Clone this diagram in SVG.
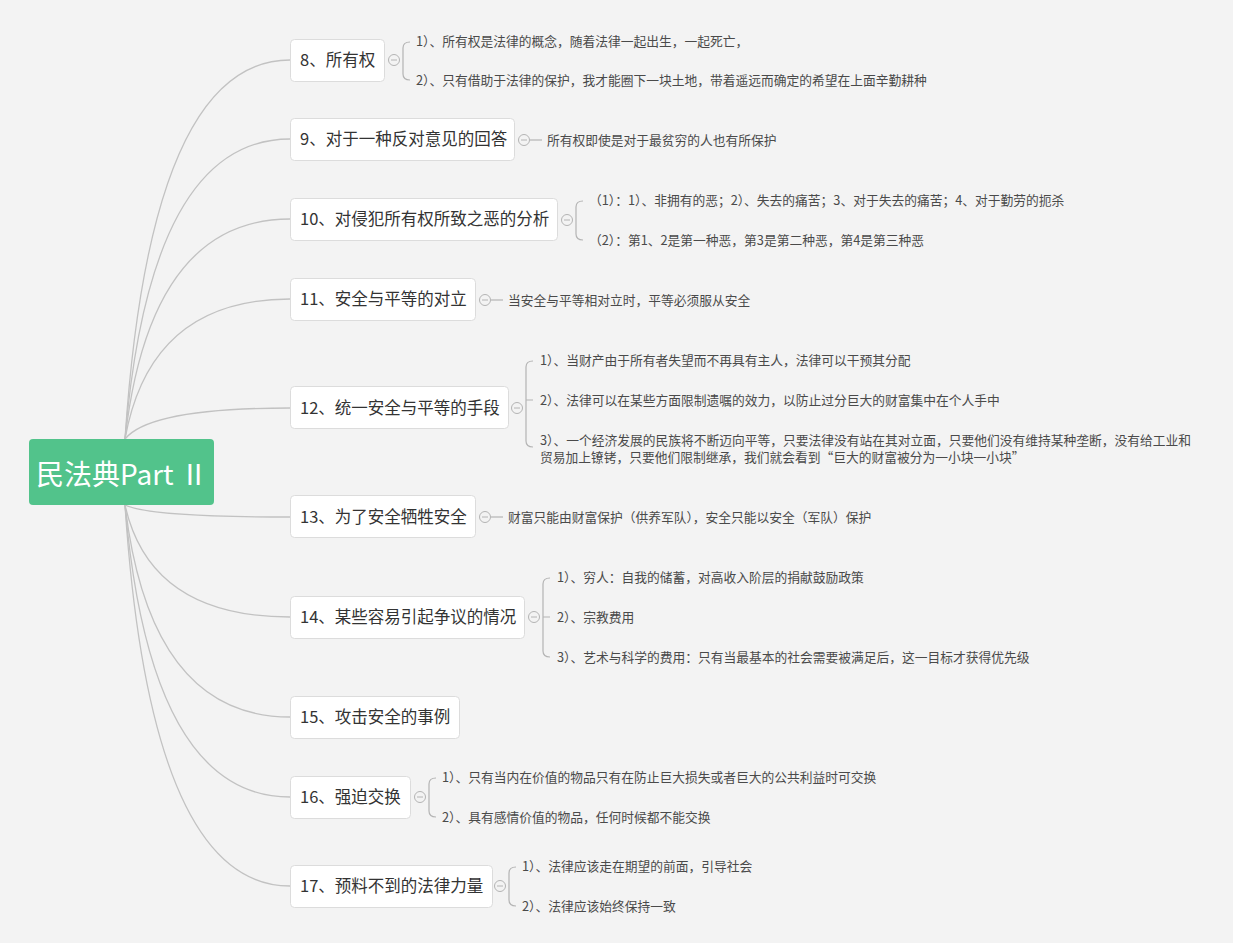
<svg xmlns="http://www.w3.org/2000/svg" width="1240" height="950" viewBox="0 0 1240 950">
  <style>
    .bg { fill: #f3f3f3; }
    .link { fill: none; stroke: #c2c2c2; stroke-width: 1.3; }
    .box { fill: #ffffff; stroke: #dcdcdc; stroke-width: 1; }
    .root { fill: #52c38b; }
    .rootText { font-family: "Noto Sans CJK SC", "Noto Sans", sans-serif; font-size: 28px; fill: #ffffff; }
    .topic { font-family: "Noto Sans CJK SC", "Noto Sans", sans-serif; font-size: 16.5px; fill: #333333; }
    .leaf { font-family: "Noto Sans CJK SC", "Noto Sans", sans-serif; font-size: 12.75px; fill: #4a4a4a; }
    .leafL { font-family: "Noto Sans CJK SC", "Noto Sans", sans-serif; font-size: 12.75px; fill: #4a4a4a; }
    .fold { fill: none; stroke: #b4b4b4; stroke-width: 1; }
    .br { fill: none; stroke: #b4b4b4; stroke-width: 1.2; }
  </style>
  <defs>
    <g id="foldIcon">
      <circle class="fold" cx="0" cy="0" r="5.5"/>
      <line class="fold" x1="-3" y1="0" x2="3" y2="0"/>
    </g>
  </defs>

  <rect class="bg" x="0" y="0" width="1233" height="943"/>

  <!-- branches from the central topic -->
  <g id="connectors">
    <path class="link" d="M125,439 Q150,60 290,60"/>
    <path class="link" d="M125,439 Q150,139 290,139"/>
    <path class="link" d="M125,439 Q150,219 290,219"/>
    <path class="link" d="M125,439 Q150,299 290,299"/>
    <path class="link" d="M125,439 Q150,408 290,408"/>
    <path class="link" d="M125,505 Q150,517 290,517"/>
    <path class="link" d="M125,505 Q150,617 290,617"/>
    <path class="link" d="M125,505 Q150,717 290,717"/>
    <path class="link" d="M125,505 Q150,797 290,797"/>
    <path class="link" d="M125,505 Q150,886 290,886"/>
  </g>

  <g id="root">
    <rect class="root" x="29" y="439" width="185" height="66" rx="4"/>
    <text class="rootText" x="122" y="485" text-anchor="middle">民法典Part Ⅱ</text>
  </g>

  <!-- 8 -->
  <g id="t8">
    <rect class="box" x="290.5" y="39.5" width="94" height="42" rx="4"/>
    <text class="topic" x="300" y="66">8、所有权</text>
    <use href="#foldIcon" x="394" y="60"/>
    <path class="br" d="M410,42 Q403,42 403,48 L403,74 Q403,80 410,80"/>
    <text class="leaf" x="416" y="46">1）、所有权是法律的概念，随着法律一起出生，一起死亡，</text>
    <text class="leaf" x="416" y="85">2）、只有借助于法律的保护，我才能圈下一块土地，带着遥远而确定的希望在上面辛勤耕种</text>
  </g>

  <!-- 9 -->
  <g id="t9">
    <rect class="box" x="290.5" y="118.5" width="224" height="42" rx="4"/>
    <text class="topic" x="300" y="145">9、对于一种反对意见的回答</text>
    <use href="#foldIcon" x="524" y="140"/>
    <line class="br" x1="530" y1="140" x2="542" y2="140"/>
    <text class="leaf" x="547" y="145">所有权即使是对于最贫穷的人也有所保护</text>
  </g>

  <!-- 10 -->
  <g id="t10">
    <rect class="box" x="290.5" y="198.5" width="267" height="42" rx="4"/>
    <text class="topic" x="300" y="225">10、对侵犯所有权所致之恶的分析</text>
    <use href="#foldIcon" x="567" y="220"/>
    <path class="br" d="M583,201 Q576,201 576,207 L576,234 Q576,240 583,240"/>
    <text class="leaf" x="589" y="205">（1）：1）、非拥有的恶；2）、失去的痛苦；3、对于失去的痛苦；4、对于勤劳的扼杀</text>
    <text class="leaf" x="589" y="245">（2）：第1、2是第一种恶，第3是第二种恶，第4是第三种恶</text>
  </g>

  <!-- 11 -->
  <g id="t11">
    <rect class="box" x="290.5" y="278.5" width="185" height="42" rx="4"/>
    <text class="topic" x="300" y="305">11、安全与平等的对立</text>
    <use href="#foldIcon" x="485" y="300"/>
    <line class="br" x1="491" y1="300" x2="503" y2="300"/>
    <text class="leaf" x="508" y="305">当安全与平等相对立时，平等必须服从安全</text>
  </g>

  <!-- 12 -->
  <g id="t12">
    <rect class="box" x="290.5" y="386.5" width="218" height="42" rx="4"/>
    <text class="topic" x="300" y="414">12、统一安全与平等的手段</text>
    <use href="#foldIcon" x="517" y="408"/>
    <path class="br" d="M533,361 Q526,361 526,367 L526,441 Q526,447 533,447 M526,400 L533,400"/>
    <text class="leafL" x="540" y="365">1）、当财产由于所有者失望而不再具有主人，法律可以干预其分配</text>
    <text class="leafL" x="540" y="405">2）、法律可以在某些方面限制遗嘱的效力，以防止过分巨大的财富集中在个人手中</text>
    <text class="leafL" x="540" y="445">3）、一个经济发展的民族将不断迈向平等，只要法律没有站在其对立面，只要他们没有维持某种垄断，没有给工业和</text>
    <text class="leafL" x="540" y="462">贸易加上镣铐，只要他们限制继承，我们就会看到“巨大的财富被分为一小块一小块”</text>
  </g>

  <!-- 13 -->
  <g id="t13">
    <rect class="box" x="290.5" y="495.5" width="185" height="42" rx="4"/>
    <text class="topic" x="300" y="523">13、为了安全牺牲安全</text>
    <use href="#foldIcon" x="485" y="517"/>
    <line class="br" x1="491" y1="517" x2="503" y2="517"/>
    <text class="leaf" x="508" y="522">财富只能由财富保护（供养军队），安全只能以安全（军队）保护</text>
  </g>

  <!-- 14 -->
  <g id="t14">
    <rect class="box" x="290.5" y="596.5" width="234" height="42" rx="4"/>
    <text class="topic" x="300" y="623">14、某些容易引起争议的情况</text>
    <use href="#foldIcon" x="534" y="617"/>
    <path class="br" d="M550,578 Q543,578 543,584 L543,651 Q543,657 550,657 M543,617 L550,617"/>
    <text class="leaf" x="557" y="582">1）、穷人：自我的储蓄，对高收入阶层的捐献鼓励政策</text>
    <text class="leaf" x="557" y="622">2）、宗教费用</text>
    <text class="leaf" x="557" y="662">3）、艺术与科学的费用：只有当最基本的社会需要被满足后，这一目标才获得优先级</text>
  </g>

  <!-- 15 -->
  <g id="t15">
    <rect class="box" x="290.5" y="696.5" width="169" height="42" rx="4"/>
    <text class="topic" x="300" y="723">15、攻击安全的事例</text>
  </g>

  <!-- 16 -->
  <g id="t16">
    <rect class="box" x="290.5" y="776.5" width="120" height="42" rx="4"/>
    <text class="topic" x="300" y="803">16、强迫交换</text>
    <use href="#foldIcon" x="420" y="797"/>
    <path class="br" d="M436,778 Q429,778 429,784 L429,811 Q429,817 436,817"/>
    <text class="leaf" x="442" y="782">1）、只有当内在价值的物品只有在防止巨大损失或者巨大的公共利益时可交换</text>
    <text class="leaf" x="442" y="822">2）、具有感情价值的物品，任何时候都不能交换</text>
  </g>

  <!-- 17 -->
  <g id="t17">
    <rect class="box" x="290.5" y="865.5" width="202" height="42" rx="4"/>
    <text class="topic" x="300" y="892">17、预料不到的法律力量</text>
    <use href="#foldIcon" x="500" y="886"/>
    <path class="br" d="M516,867 Q509,867 509,873 L509,900 Q509,906 516,906"/>
    <text class="leaf" x="522" y="871">1）、法律应该走在期望的前面，引导社会</text>
    <text class="leaf" x="522" y="911">2）、法律应该始终保持一致</text>
  </g>
</svg>
